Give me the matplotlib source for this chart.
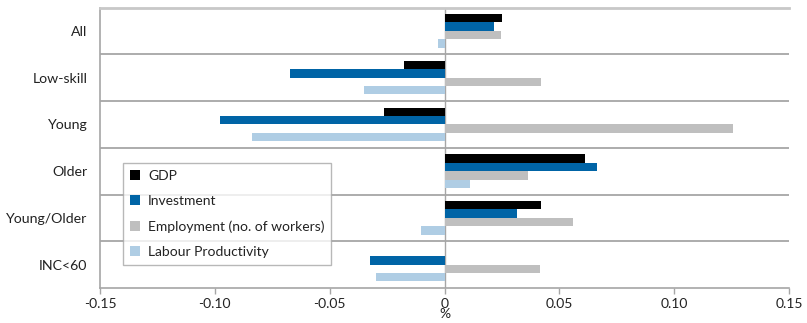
import matplotlib
matplotlib.use("Agg")
import matplotlib.pyplot as plt
import numpy as np

categories = ["All", "Low-skill", "Young", "Older", "Young/Older", "INC<60"]
series_names = ["GDP", "Investment", "Employment (no. of workers)", "Labour Productivity"]
gdp = [0.0249, -0.0177, -0.0265, 0.0611, 0.0418, 0.0003]
investment = [0.0215, -0.0674, -0.0979, 0.0666, 0.0314, -0.0326]
employment = [0.0245, 0.0418, 0.1257, 0.0362, 0.0561, 0.0414]
labour_prod = [-0.0030, -0.0352, -0.0836, 0.0109, -0.0101, -0.0300]
colors = ["#000000", "#0064A6", "#BFBFBF", "#AFCDE4"]
xticks = [-0.15, -0.10, -0.05, 0, 0.05, 0.10, 0.15]
xticklabels = ["-0.15", "-0.10", "-0.05", "0", "0.05", "0.10", "0.15"]

plt.rcParams['font.family'] = ['Lato', 'DejaVu Sans']
fig = plt.figure(figsize=(8.07, 3.23), dpi=100)
ax = fig.add_axes([100/807, 1-288/323, (789-100)/807, (288-7.5)/323])

y = np.arange(len(categories))
h = 0.18
data = [gdp, investment, employment, labour_prod]
for k, (vals, c, name) in enumerate(zip(data, colors, series_names)):
    ax.barh(y + (k - 1.5) * h, vals, height=h, color=c, label=name, zorder=3)

ax.set_ylim(len(categories) - 0.5, -0.5)
ax.set_xlim(-0.15, 0.15)
ax.set_yticks(y)
ax.set_yticklabels(categories, fontsize=10.2, color="#222222")
ax.tick_params(axis='y', length=0, pad=9)
ax.set_xticks(xticks)
ax.set_xticklabels(xticklabels, fontsize=10, color="#222222")
ax.tick_params(axis='x', length=4, color="#a6a6a6", width=1, pad=3)
ax.set_xlabel("%", fontsize=10, color="#222222", labelpad=-1)

for b in np.arange(0.5, len(categories) - 0.5, 1.0):
    ax.axhline(b, color="#a6a6a6", lw=1.3, zorder=1)
ax.axvline(0, color="#a6a6a6", lw=1, zorder=2)

ax.spines['right'].set_visible(False)
ax.spines['top'].set_color("#c8c8c8")
ax.spines['top'].set_linewidth(2)
ax.spines['left'].set_color("#a6a6a6")
ax.spines['bottom'].set_color("#a6a6a6")
ax.spines['left'].set_linewidth(1.2)
ax.spines['bottom'].set_linewidth(1.2)

leg = ax.legend(loc='lower left', bbox_to_anchor=((123-100)/689, (288-265)/280.5),
                fontsize=10, frameon=True, fancybox=False, edgecolor="#a6a6a6",
                handlelength=0.7, handleheight=0.7, handletextpad=0.6,
                labelspacing=0.95, borderpad=0.5, borderaxespad=0)
leg.get_frame().set_linewidth(1)
for t in leg.get_texts():
    t.set_color("#222222")

fig.savefig("out.png", dpi=100)
